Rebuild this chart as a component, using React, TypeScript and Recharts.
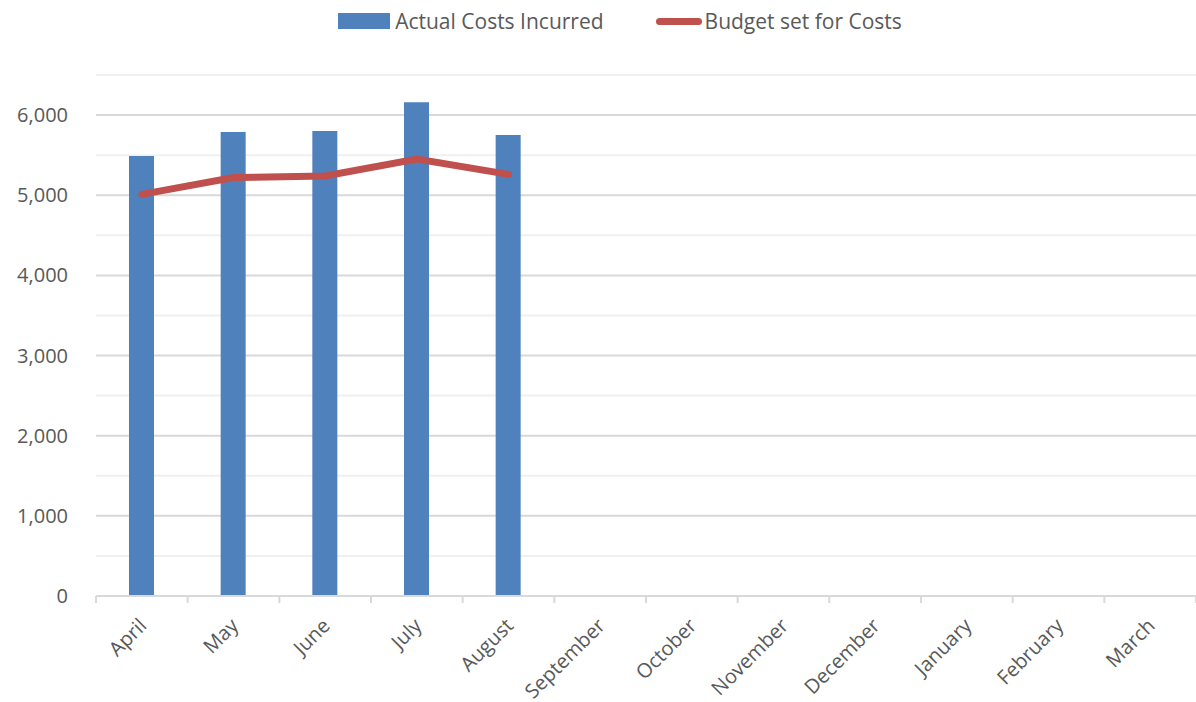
import React from 'react';
import { ComposedChart, Bar, Line, XAxis, YAxis, CartesianGrid, Legend } from 'recharts';

const months = ['April', 'May', 'June', 'July', 'August', 'September', 'October', 'November', 'December', 'January', 'February', 'March'];
const actualCosts = [5490, 5790, 5800, 6160, 5750, null, null, null, null, null, null, null];
const budgetCosts = [5010, 5220, 5240, 5450, 5260, null, null, null, null, null, null, null];
// every 500 gets a gridline, only the thousands get a label
const gridTicks = [0, 500, 1000, 1500, 2000, 2500, 3000, 3500, 4000, 4500, 5000, 5500, 6000, 6500];

const data = months.map((m, i) => ({ month: m, actual: actualCosts[i], budget: budgetCosts[i] }));

const BAR = '#4F81BD';
const LINE = '#C0504D';
const TEXT = '#595959';
const FONT = '"Open Sans", sans-serif';

const MonthTick = (props: any) => {
    const { x, y, payload, index, width, visibleTicksCount } = props;
    const band = (width || 1100) / (visibleTicksCount || 12);
    const isLast = index === months.length - 1;
    return (
        <g>
            <line x1={x - band / 2} y1={y} x2={x - band / 2} y2={y + 7} stroke="#d9d9d9" strokeWidth={2} />
            {isLast && <line x1={x + band / 2} y1={y} x2={x + band / 2} y2={y + 7} stroke="#d9d9d9" strokeWidth={2} />}
            <text
                x={x + 6}
                y={y + 31}
                textAnchor="end"
                transform={`rotate(-45, ${x + 6}, ${y + 31})`}
                fill={TEXT}
                fontSize={20}
                fontFamily={FONT}
            >
                {payload.value}
            </text>
        </g>
    );
};

const GridLine = (props: any) => {
    const { x1, x2, y1, y2, index } = props;
    const major = index % 2 === 0;
    return <line x1={x1} x2={x2} y1={y1} y2={y2} stroke={major ? '#d9d9d9' : '#f0f0f0'} strokeWidth={2} />;
};

const LegendContent = () => (
    <div style={{ display: 'flex', justifyContent: 'center', alignItems: 'center', paddingLeft: 44, fontFamily: FONT, fontSize: 21, color: TEXT }}>
        <span style={{ display: 'inline-block', width: 52, height: 16, background: BAR, marginRight: 5 }} />
        <span style={{ marginRight: 52 }}>Actual Costs Incurred</span>
        <span style={{ display: 'inline-block', width: 46, height: 7, background: LINE, borderRadius: 4, marginRight: 3 }} />
        <span>Budget set for Costs</span>
    </div>
);

export default function App() {
    return (
        <div style={{ position: 'absolute', left: 0, top: 0, background: '#fff' }}>
            <ComposedChart width={1196} height={702} data={data} margin={{ top: 47, right: 0, left: 0, bottom: 0 }} barSize={25}>
                <CartesianGrid vertical={false} horizontal={(p: any) => <GridLine {...p} />} />
                <XAxis
                    dataKey="month"
                    interval={0}
                    height={106}
                    axisLine={{ stroke: '#d9d9d9', strokeWidth: 2 }}
                    tickLine={false}
                    tickSize={0}
                    tickMargin={0}
                    tick={<MonthTick />}
                />
                <YAxis
                    width={96}
                    domain={[0, 6500]}
                    ticks={gridTicks}
                    interval={0}
                    axisLine={false}
                    tickLine={false}
                    tickSize={0}
                    tickMargin={28}
                    tickFormatter={(v: number) => (v % 1000 === 0 ? v.toLocaleString('en-US') : '')}
                    tick={{ fill: TEXT, fontSize: 20, fontFamily: FONT }}
                />
                <Legend verticalAlign="top" content={<LegendContent />} wrapperStyle={{ top: 7, left: 0, width: 1196 }} />
                <Bar dataKey="actual" name="Actual Costs Incurred" fill={BAR} isAnimationActive={false} />
                <Line
                    dataKey="budget"
                    name="Budget set for Costs"
                    stroke={LINE}
                    strokeWidth={7}
                    strokeLinecap="round"
                    dot={false}
                    activeDot={false}
                    type="linear"
                    isAnimationActive={false}
                />
            </ComposedChart>
        </div>
    );
}
